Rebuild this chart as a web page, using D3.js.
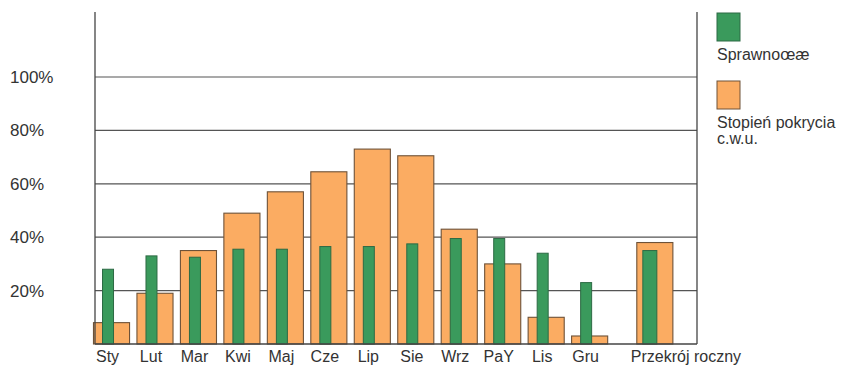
<!DOCTYPE html>
<html>
<head>
<meta charset="utf-8">
<script src="https://cdn.jsdelivr.net/npm/d3@7"></script>
<style>
  body { margin: 0; background: #fff; }
  text { font-family: "Liberation Sans", Arial, sans-serif; fill: #333; }
</style>
</head>
<body>
<svg id="chart" width="858" height="369"></svg>
<script>
// data
const months = ["Sty", "Lut", "Mar", "Kwi", "Maj", "Cze", "Lip", "Sie", "Wrz", "PaY", "Lis", "Gru", "Przekrój roczny"];
const coverage = [8, 19, 35, 49, 57, 64.5, 73, 70.5, 43, 30, 10, 3, 38];      // Stopień pokrycia c.w.u.
const efficiency = [28, 33, 32.5, 35.5, 35.5, 36.5, 36.5, 37.5, 39.5, 39.5, 34, 23, 35]; // Sprawność
const yTicks = [20, 40, 60, 80, 100];
const legendItems = ["Sprawnoœæ", "Stopień pokrycia\nc.w.u."];

const orange = "#fbac62", green = "#3a9a5c";

const svg = d3.select("#chart");

const plotLeft = 95, plotRight = 697, plotTop = 12, plotBottom = 344;

// slot index per category; the yearly summary sits one and a half steps after Gru
const slot = i => (i < 12 ? i : 12.5);

const x = d3.scaleLinear().domain([-0.38, 13.47]).range([plotLeft, plotRight]);
const y = d3.scaleLinear().domain([0, 100]).range([plotBottom, plotBottom - 267]);

const step = x(1) - x(0);
const orangeW = step * 0.83;

// gridlines
svg.append("g")
  .selectAll("line")
  .data(yTicks)
  .join("line")
  .attr("x1", plotLeft).attr("x2", plotRight)
  .attr("y1", d => y(d)).attr("y2", d => y(d))
  .attr("stroke", "#555").attr("stroke-width", 1.2);

// tick labels
svg.append("g")
  .selectAll("text")
  .data(yTicks)
  .join("text")
  .attr("x", 10)
  .attr("y", d => y(d))
  .attr("dy", "0.35em")
  .attr("font-size", 17)
  .text(d => d + "%");

// orange bars
svg.append("g")
  .selectAll("rect")
  .data(coverage)
  .join("rect")
  .attr("x", (d, i) => x(slot(i)) - orangeW / 2)
  .attr("y", d => y(d))
  .attr("width", orangeW)
  .attr("height", d => y(0) - y(d))
  .attr("fill", orange)
  .attr("stroke", "#6e5238").attr("stroke-width", 1.1);

// green bars
svg.append("g")
  .selectAll("rect")
  .data(efficiency)
  .join("rect")
  .attr("x", (d, i) => x(slot(i)) - (i < 12 ? 9 : 12))
  .attr("y", d => y(d))
  .attr("width", (d, i) => (i < 12 ? 11 : 14))
  .attr("height", d => y(0) - y(d))
  .attr("fill", green)
  .attr("stroke", "#2c6a44").attr("stroke-width", 1);

// axes frame
svg.append("line").attr("x1", plotLeft).attr("x2", plotLeft).attr("y1", plotTop).attr("y2", plotBottom)
  .attr("stroke", "#444").attr("stroke-width", 1.3);
svg.append("line").attr("x1", plotRight).attr("x2", plotRight).attr("y1", plotTop).attr("y2", plotBottom)
  .attr("stroke", "#444").attr("stroke-width", 1.3);
svg.append("line").attr("x1", plotLeft).attr("x2", plotRight).attr("y1", plotBottom).attr("y2", plotBottom)
  .attr("stroke", "#444").attr("stroke-width", 1.3);

// category labels
svg.append("g")
  .selectAll("text")
  .data(months)
  .join("text")
  .attr("x", (d, i) => i < 12 ? x(slot(i)) - 4 : x(slot(i)) - orangeW / 2 - 6)
  .attr("y", 362)
  .attr("text-anchor", (d, i) => i < 12 ? "middle" : "start")
  .attr("font-size", 16)
  .text(d => d);

// legend
const legend = svg.append("g").attr("transform", "translate(717,0)");
const legendY = [13, 81];
legendItems.forEach((label, i) => {
  legend.append("rect")
    .attr("x", 0).attr("y", legendY[i])
    .attr("width", 23).attr("height", 28)
    .attr("fill", i === 0 ? green : orange)
    .attr("stroke", i === 0 ? "#2c6a44" : "#6e5238");
  const t = legend.append("text")
    .attr("x", 0).attr("y", legendY[i] + 47)
    .attr("font-size", 16);
  label.split("\n").forEach((line, j) => {
    t.append("tspan").attr("x", 0).attr("dy", j ? 16 : 0).text(line);
  });
});
</script>
</body>
</html>
